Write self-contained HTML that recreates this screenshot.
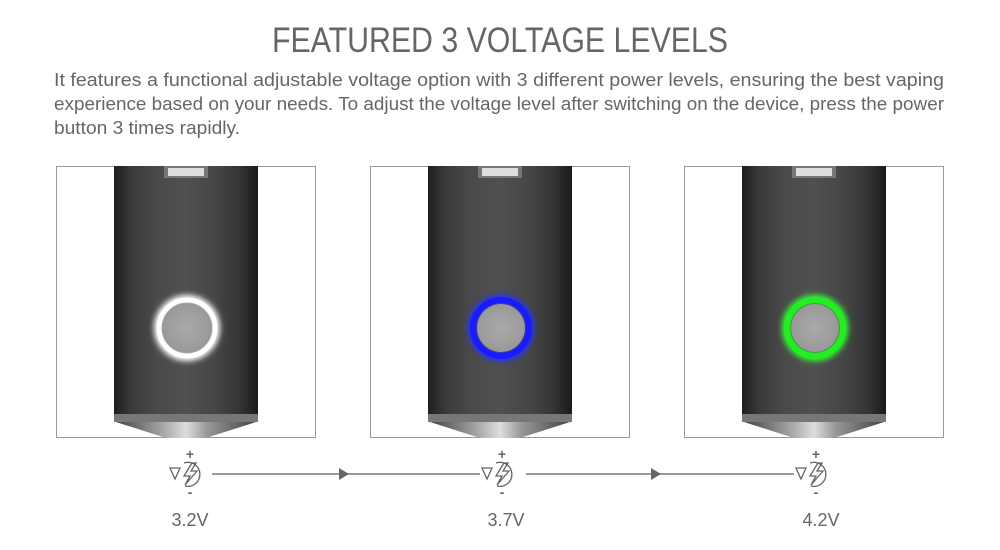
<!DOCTYPE html>
<html><head><meta charset="utf-8"><style>
html,body{margin:0;padding:0;background:#fff;width:1000px;height:550px;overflow:hidden}
text{font-family:"Liberation Sans",sans-serif;fill:#666}
</style></head><body>
<svg width="1000" height="550" viewBox="0 0 1000 550" xmlns="http://www.w3.org/2000/svg">
<defs>
<linearGradient id="body" x1="0" x2="1" y1="0" y2="0">
<stop offset="0" stop-color="#1e1e1e"/><stop offset="0.12" stop-color="#3a3a3a"/>
<stop offset="0.3" stop-color="#4a4a4a"/><stop offset="0.5" stop-color="#505050"/>
<stop offset="0.72" stop-color="#454545"/><stop offset="0.88" stop-color="#333"/><stop offset="1" stop-color="#1a1a1a"/>
</linearGradient>
<linearGradient id="cone" x1="0" x2="1" y1="0" y2="0">
<stop offset="0" stop-color="#444"/><stop offset="0.35" stop-color="#aaa"/><stop offset="0.5" stop-color="#ddd"/><stop offset="0.65" stop-color="#999"/><stop offset="1" stop-color="#444"/>
</linearGradient>
<radialGradient id="btn"><stop offset="0" stop-color="#aaa"/><stop offset="1" stop-color="#999"/></radialGradient>
<filter id="glow" x="-50%" y="-50%" width="200%" height="200%"><feGaussianBlur stdDeviation="3"/></filter>
<g id="dev">
<rect x="58" y="0" width="144" height="250" fill="url(#body)"/>
<rect x="58" y="248" width="144" height="8" fill="#777"/>
<polygon points="60,256 200,256 150,272 110,272" fill="url(#cone)"/>
<rect x="108" y="0" width="44" height="12" fill="#777"/>
<rect x="112" y="2" width="36" height="8" fill="#ddd"/>
</g>
</defs>

<text x="500" y="52" font-size="35" text-anchor="middle" textLength="456" lengthAdjust="spacingAndGlyphs">FEATURED 3 VOLTAGE LEVELS</text>
<text x="54" y="86" font-size="18" textLength="890" lengthAdjust="spacingAndGlyphs">It features a functional adjustable voltage option with 3 different power levels, ensuring the best vaping</text>
<text x="54" y="110" font-size="18" textLength="890" lengthAdjust="spacingAndGlyphs">experience based on your needs. To adjust the voltage level after switching on the device, press the power</text>
<text x="54" y="134" font-size="18" textLength="186" lengthAdjust="spacingAndGlyphs">button 3 times rapidly.</text>

<g transform="translate(56,166)">
<rect x="0.5" y="0.5" width="259" height="271" fill="#fff" stroke="#999"/>
<use href="#dev"/>
<circle cx="131" cy="162" r="29" fill="none" stroke="#fff" stroke-width="8" filter="url(#glow)"/>
<circle cx="131" cy="162" r="24" fill="url(#btn)"/>
<circle cx="131" cy="162" r="28" fill="none" stroke="#fff" stroke-width="5"/>
</g>
<g transform="translate(370,166)">
<rect x="0.5" y="0.5" width="259" height="271" fill="#fff" stroke="#999"/>
<use href="#dev"/>
<circle cx="131" cy="162" r="29" fill="none" stroke="#2030ff" stroke-width="8" filter="url(#glow)"/>
<circle cx="131" cy="162" r="24" fill="url(#btn)"/>
<circle cx="131" cy="162" r="28" fill="none" stroke="#1a1aff" stroke-width="6"/>
</g>
<g transform="translate(684,166)">
<rect x="0.5" y="0.5" width="259" height="271" fill="#fff" stroke="#999"/>
<use href="#dev"/>
<circle cx="131" cy="162" r="29" fill="none" stroke="#30ff30" stroke-width="8" filter="url(#glow)"/>
<circle cx="131" cy="162" r="24" fill="url(#btn)"/>
<circle cx="131" cy="162" r="28" fill="none" stroke="#22ee22" stroke-width="6"/>
</g>

<g id="ic" stroke="#666" fill="none" stroke-width="1.3">
<path d="M184,463 A12,12 0 1 1 185,486"/>
<polygon points="170,468 180,468 175,479"/>
<path d="M192,463 L184,476 L190,476 L185,485 L197,471 L191,471 L196,463 Z"/>
</g>
<use href="#ic" x="312"/>
<use href="#ic" x="626"/>
<g font-size="14" font-weight="bold" text-anchor="middle">
<text x="190" y="459">+</text><text x="190" y="497">-</text>
<text x="502" y="459">+</text><text x="502" y="497">-</text>
<text x="816" y="459">+</text><text x="816" y="497">-</text>
</g>
<g stroke="#777" stroke-width="1.5">
<line x1="212" y1="474" x2="480" y2="474"/>
<line x1="526" y1="474" x2="794" y2="474"/>
</g>
<polygon points="339,468 349,474 339,480" fill="#666"/>
<polygon points="651,468 661,474 651,480" fill="#666"/>
<g font-size="18" text-anchor="middle">
<text x="190" y="526">3.2V</text><text x="506" y="526">3.7V</text><text x="821" y="526">4.2V</text>
</g>
</svg>
</body></html>
